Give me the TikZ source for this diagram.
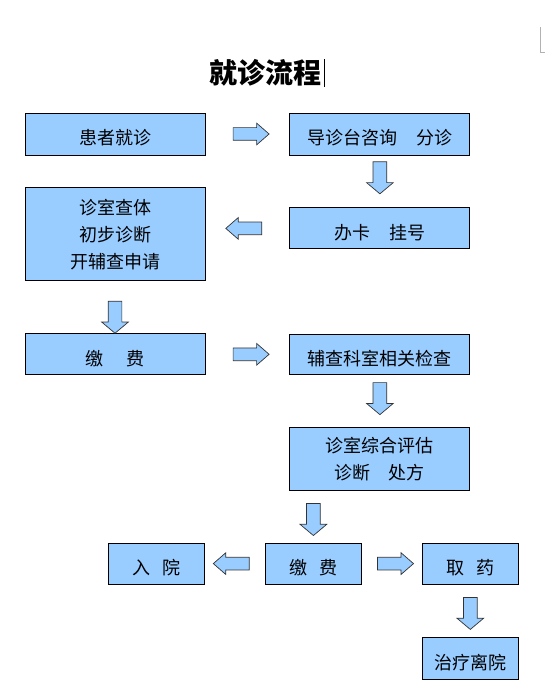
\documentclass[tikz,border=0pt]{standalone}
\usepackage{fontspec}
\usepackage{tikz}
\usetikzlibrary{shapes}
\usetikzlibrary{shapes.arrows}
\usetikzlibrary{positioning}
\usetikzlibrary{calc}
\newfontfamily\cjk{Noto Sans CJK SC}
\definecolor{boxblue}{RGB}{153,204,255}
\tikzset{
    stepbox/.style={draw, line width=0.9pt, fill=boxblue, align=center, inner sep=0pt,
        font=\cjk\fontsize{18}{27}\selectfont},
    oneline/.style={text height=24pt, text depth=2pt},
    widebox/.style={stepbox, minimum width=180pt, minimum height=42pt},
    smallbox/.style={stepbox, oneline, minimum width=96pt, minimum height=41pt},
    harrow/.style={single arrow, draw=black!80, line width=0.7pt, fill=boxblue, inner xsep=0pt, inner ysep=6pt,
        minimum height=36pt, single arrow head extend=4.5pt, single arrow tip angle=82},
    varrow/.style={single arrow, draw=black!80, line width=0.7pt, fill=boxblue, inner xsep=0pt, inner ysep=6.5pt,
        minimum height=32pt, single arrow head extend=6.5pt, single arrow tip angle=100, rotate=-90}
}
\begin{document}
\begin{tikzpicture}[x=1pt, y=-1pt]
        \useasboundingbox (0,0) rectangle (545,700);
        \node[font=\cjk\fontsize{28}{34}\selectfont\bfseries, inner sep=0pt] (title) at (265,73) {就诊流程};
        \draw[line width=1.2pt] ([xshift=3pt]title.north east) -- ([xshift=3pt]title.south east);
        \draw[gray!60] (540,27) -- (540,52) -- (545,52);

        \node[widebox, oneline] (visit) at (115,134) {患者就诊};
        \node[widebox, oneline] (guide) [right=84pt of visit] {导诊台咨询\hspace{1.1em}分诊};
        \node[widebox, oneline, minimum height=41pt] (regist) [below=52pt of guide] {办卡\hspace{1.1em}挂号};
        \node[widebox, minimum height=93pt] (exam) [below=32pt of visit] {诊室查体\\初步诊断\\开辅查申请};
        \node[widebox, oneline, minimum height=41pt] (pay) [below=52pt of exam] {缴\hspace{1.25em}费};
        \node[widebox, oneline, minimum height=40pt] (check) [right=84pt of pay] {辅查科室相关检查};
        \node[widebox, minimum height=63pt] (assess) [below=52pt of check] {诊室综合评估\\诊断\hspace{1em}处方};
        \node[smallbox] (pay_again) [below=52pt of assess, xshift=-66.5pt] {缴\hspace{0.7em}费};
        \node[smallbox] (admit) [left=60pt of pay_again] {入\hspace{0.7em}院};
        \node[smallbox] (drug) [right=60pt of pay_again] {取\hspace{0.7em}药};
        \node[smallbox, minimum height=42pt] (leave) [below=52pt of drug] {治疗离院};

        \node[harrow] (visit_guide) at ($(visit.east)!0.5!(guide.west)$) {};
        \node[varrow, xshift=-6.5pt] (guide_regist) at ($(guide.south)!0.5!(regist.north)$) {};
        \node[harrow, rotate=180] (regist_exam) at ($(regist.west)!0.5!(regist.west -| exam.east)$) {};
        \node[varrow, xshift=7pt] (exam_pay) at ($(exam.south)!0.5!(pay.north)$) {};
        \node[harrow] (pay_check) at ($(pay.east)!0.5!(check.west)$) {};
        \node[varrow, xshift=-5pt] (check_assess) at ($(check.south)!0.5!(assess.north)$) {};
        \node[varrow] (assess_pay) at ($(assess.south -| pay_again.north)!0.5!(pay_again.north)$) {};
        \node[harrow, rotate=180] (pay_admit) at ($(pay_again.west)!0.5!(admit.east)$) {};
        \node[harrow] (pay_drug) at ($(pay_again.east)!0.5!(drug.west)$) {};
        \node[varrow] (drug_leave) at ($(drug.south)!0.5!(leave.north)$) {};
\end{tikzpicture}
\end{document}
